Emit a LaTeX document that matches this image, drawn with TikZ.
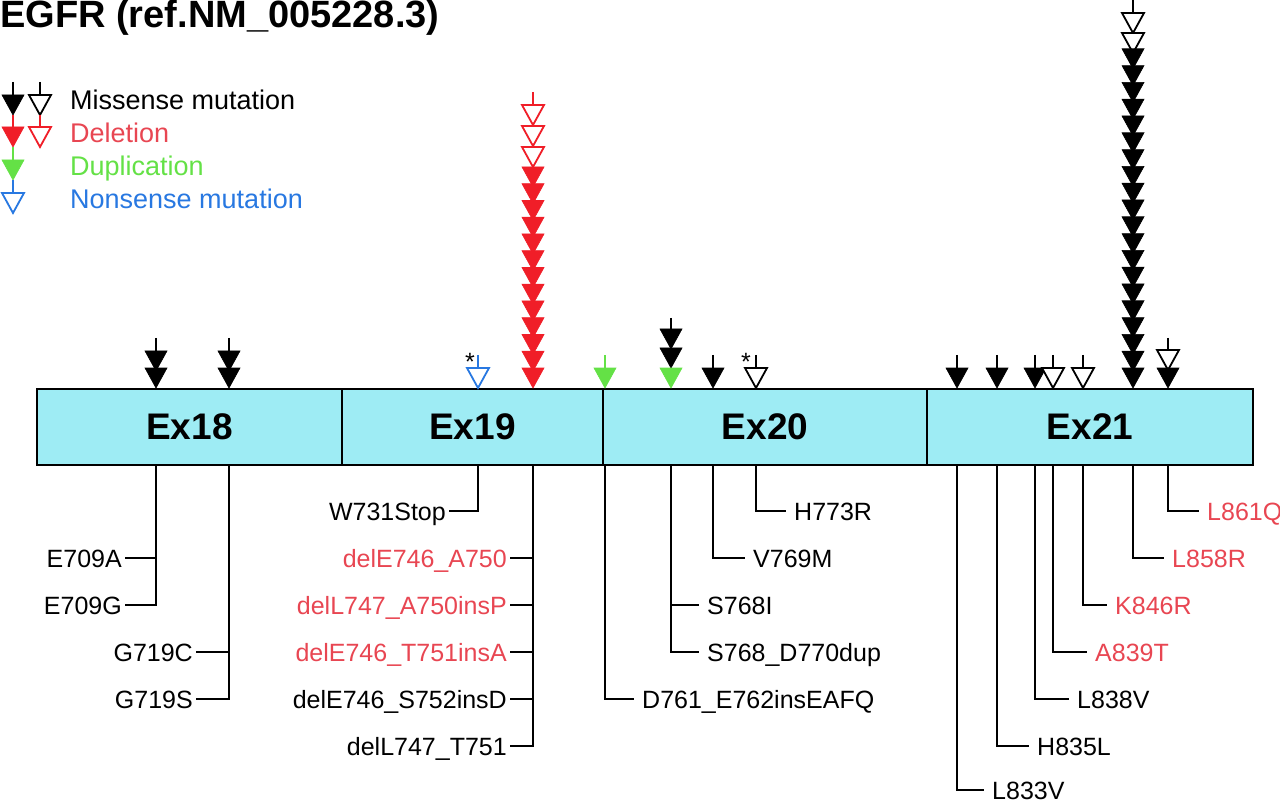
\documentclass[tikz,border=0pt]{standalone}
\usepackage{fontspec}
\setmainfont{Liberation Sans}
\definecolor{exoncyan}{RGB}{158,236,244}
\definecolor{delred}{RGB}{240,30,40}
\definecolor{labred}{RGB}{232,70,82}
\definecolor{dupgreen}{RGB}{100,225,70}
\definecolor{nonblue}{RGB}{40,120,225}
\newcommand{\mtri}[3]{\path[#3] (#1-11,#2-20) -- (#1+11,#2-20) -- (#1,#2) -- cycle;}

\begin{document}
\begin{tikzpicture}[x=1pt,y=-1pt,line join=miter,
	exon/.style={draw, line width=1.6pt, fill=exoncyan, minimum height=76pt, inner sep=0pt, font=\fontsize{37}{40}\selectfont\bfseries},
	lab/.style={font=\fontsize{25}{30}\selectfont, text height=18pt, text depth=0pt, inner ysep=0pt},
	llab/.style={lab, anchor=east, inner xsep=3pt},
	rlab/.style={lab, anchor=west, inner xsep=8pt},
	leg/.style={anchor=base west, inner sep=0pt, font=\fontsize{27}{30}\selectfont},
	conn/.style={line width=2.2pt},
	stem/.style={draw=#1, line width=1.8pt},
	full/.style={draw=#1, fill=#1, line width=0.6pt},
	hollow/.style={draw=#1, fill=white, line width=1.8pt}]
	\useasboundingbox (0,0) rectangle (1280,802);
	\node[anchor=base west, inner sep=0pt, font=\fontsize{38}{40}\selectfont\bfseries] (title) at (0,28) {EGFR (ref.NM\_005228.3)};

	\draw[stem=black] (13,82) -- (13,95);
	\mtri{13}{115}{full=black}
	\draw[stem=delred] (13,115) -- (13,127);
	\mtri{13}{147}{full=delred}
	\draw[stem=dupgreen] (13,147) -- (13,160);
	\mtri{13}{180}{full=dupgreen}
	\draw[stem=nonblue] (13,180) -- (13,193);
	\mtri{13}{213}{hollow=nonblue}
	\draw[stem=black] (40,82) -- (40,95);
	\mtri{40}{115}{hollow=black}
	\draw[stem=delred] (40,115) -- (40,127);
	\mtri{40}{147}{hollow=delred}
	\node[leg, text=black] (lmis) at (70,110) {Missense mutation};
	\node[leg, text=labred] (ldel) at (70,143) {Deletion};
	\node[leg, text=dupgreen] (ldup) at (70,176) {Duplication};
	\node[leg, text=nonblue] (lnon) at (70,209) {Nonsense mutation};

	\node[exon, minimum width=305pt] (ex18) at (189.5,427) {Ex18};
	\node[exon, minimum width=261pt] (ex19) at (472.5,427) {Ex19};
	\node[exon, minimum width=324pt] (ex20) at (765,427) {Ex20};
	\node[exon, minimum width=326pt] (ex21) at (1090,427) {Ex21};

	\foreach \x in {156,229} {
		\draw[stem=black] (\x,338) -- (\x,351);
		\mtri{\x}{371}{full=black}
		\mtri{\x}{388}{full=black}
	}
	\draw[stem=nonblue] (478,355) -- (478,368);
	\mtri{478}{388}{hollow=nonblue}
	\node[font=\fontsize{25}{30}\selectfont, inner sep=0pt] (ast731) at (470,362) {*};
	\draw[stem=delred] (533,92) -- (533,105);
	\foreach \t in {125,146,167} {\mtri{533}{\t}{hollow=delred}}
	\foreach \k in {0,...,12} {\mtri{533}{388-16.75*\k}{full=delred}}

	\draw[stem=dupgreen] (605,355) -- (605,368);
	\mtri{605}{388}{full=dupgreen}
	\draw[stem=black] (671,318) -- (671,329);
	\mtri{671}{349}{full=black}
	\mtri{671}{368}{full=black}
	\mtri{671}{388}{full=dupgreen}
	\draw[stem=black] (713,355) -- (713,368);
	\mtri{713}{388}{full=black}
	\draw[stem=black] (756,355) -- (756,368);
	\mtri{756}{388}{hollow=black}
	\node[font=\fontsize{25}{30}\selectfont, inner sep=0pt] (ast773) at (746,362) {*};

	\foreach \x in {957,997,1035} {
		\draw[stem=black] (\x,355) -- (\x,368);
		\mtri{\x}{388}{full=black}
	}
	\foreach \x in {1053,1083} {
		\draw[stem=black] (\x,355) -- (\x,368);
		\mtri{\x}{388}{hollow=black}
	}
	\draw[stem=black] (1133,0) -- (1133,13);
	\mtri{1133}{33}{hollow=black}
	\mtri{1133}{53}{hollow=black}
	\foreach \k in {0,...,19} {\mtri{1133}{388-16.8*\k}{full=black}}
	\draw[stem=black] (1168,338) -- (1168,350);
	\mtri{1168}{370}{hollow=black}
	\mtri{1168}{388}{full=black}

	\coordinate (c709) at (156,465);
	\coordinate (c719) at (229,465);
	\coordinate (c731) at (478,465);
	\coordinate (c746) at (533,465);
	\coordinate (c761) at (605,465);
	\coordinate (c768) at (671,465);
	\coordinate (c769) at (713,465);
	\coordinate (c773) at (756,465);
	\coordinate (c833) at (957,465);
	\coordinate (c835) at (997,465);
	\coordinate (c838) at (1035,465);
	\coordinate (c839) at (1053,465);
	\coordinate (c846) at (1083,465);
	\coordinate (c858) at (1133,465);
	\coordinate (c861) at (1168,465);

	\node[llab] (e709a) at (125,558) {E709A};
	\node[llab] (e709g) at (125,605) {E709G};
	\node[llab] (g719c) at (196,652) {G719C};
	\node[llab] (g719s) at (196,699) {G719S};
	\node[llab] (w731) at (449,511) {W731Stop};
	\node[llab, text=labred] (d746a750) at (510,558) {delE746\_A750};
	\node[llab, text=labred] (d747a750) at (510,605) {delL747\_A750insP};
	\node[llab, text=labred] (d746t751) at (510,652) {delE746\_T751insA};
	\node[llab] (d746s752) at (510,699) {delE746\_S752insD};
	\node[llab] (d747t751) at (510,746) {delL747\_T751};
	\node[rlab] (d761) at (634,699) {D761\_E762insEAFQ};
	\node[rlab] (s768i) at (699,605) {S768I};
	\node[rlab] (s768dup) at (699,652) {S768\_D770dup};
	\node[rlab] (v769m) at (745,558) {V769M};
	\node[rlab] (h773r) at (786,511) {H773R};
	\node[rlab] (l833v) at (984,790) {L833V};
	\node[rlab] (h835l) at (1029,746) {H835L};
	\node[rlab] (l838v) at (1069,699) {L838V};
	\node[rlab, text=labred] (a839t) at (1087,652) {A839T};
	\node[rlab, text=labred] (k846r) at (1107,605) {K846R};
	\node[rlab, text=labred] (l858r) at (1164,558) {L858R};
	\node[rlab, text=labred] (l861q) at (1199,511) {L861Q};

	\draw[conn] (c709) |- (e709a.east);
	\draw[conn] (c709) |- (e709g.east);
	\draw[conn] (c719) |- (g719c.east);
	\draw[conn] (c719) |- (g719s.east);
	\draw[conn] (c731) |- (w731.east);
	\foreach \n in {d746a750,d747a750,d746t751,d746s752,d747t751} {\draw[conn] (c746) |- (\n.east);}
	\draw[conn] (c761) |- (d761.west);
	\draw[conn] (c768) |- (s768i.west);
	\draw[conn] (c768) |- (s768dup.west);
	\draw[conn] (c769) |- (v769m.west);
	\draw[conn] (c773) |- (h773r.west);
	\draw[conn] (c833) |- (l833v.west);
	\draw[conn] (c835) |- (h835l.west);
	\draw[conn] (c838) |- (l838v.west);
	\draw[conn] (c839) |- (a839t.west);
	\draw[conn] (c846) |- (k846r.west);
	\draw[conn] (c858) |- (l858r.west);
	\draw[conn] (c861) |- (l861q.west);
\end{tikzpicture}
\end{document}
